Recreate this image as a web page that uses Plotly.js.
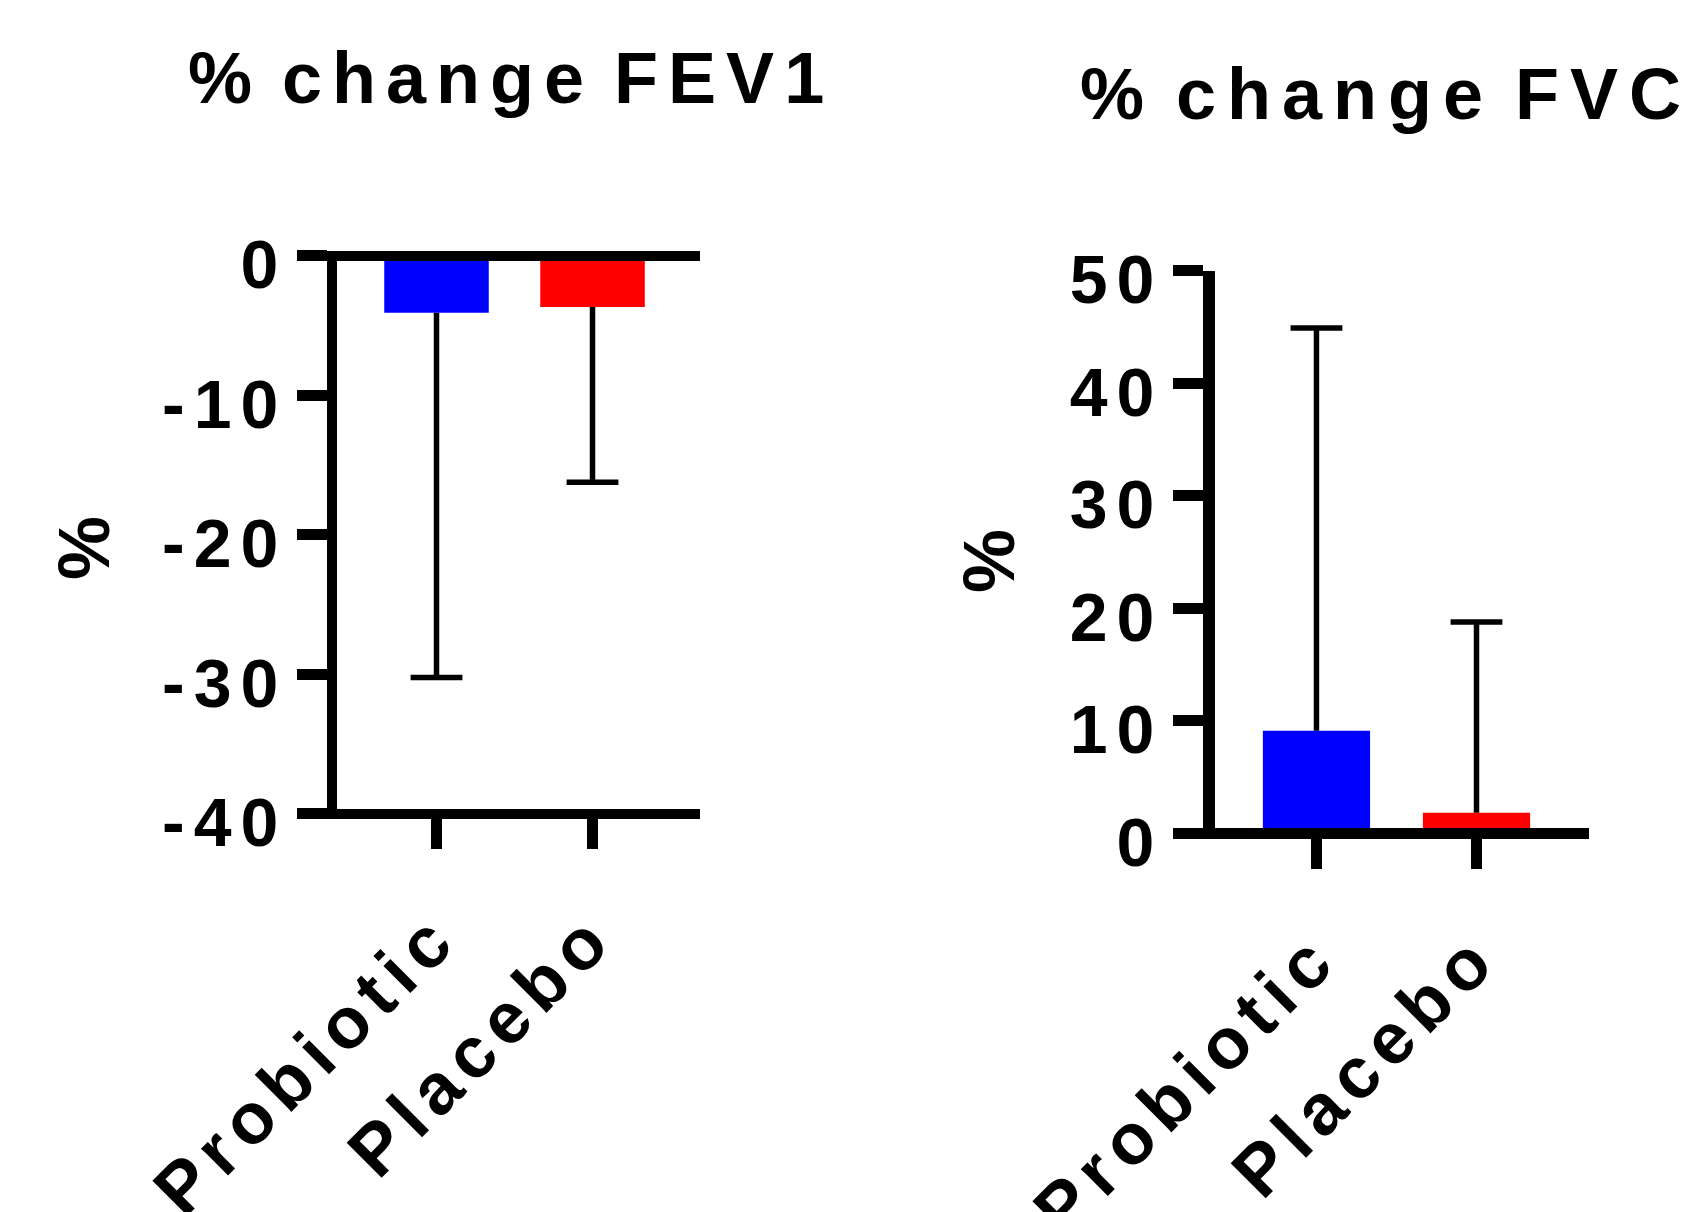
<!DOCTYPE html>
<html>
<head>
<meta charset="utf-8">
<script src="https://cdn.plot.ly/plotly-3.0.1.min.js"></script>
<style>
  html, body { margin: 0; padding: 0; background: #ffffff; }
  #chart { width: 1694px; height: 1212px; }
  #chart svg text.annotation-text { letter-spacing: 10px; word-spacing: -10px; }
  #chart svg g.annotation[data-index="1"] text.annotation-text { letter-spacing: 11px; }
  #chart svg g.ytick text, #chart svg g.y2tick text { letter-spacing: 9px; }
  #chart svg g.xtick text, #chart svg g.x2tick text { letter-spacing: 9px; }
</style>
</head>
<body>
<div id="chart"></div>
<script>
// ---- data ----
const categories = ['Probiotic', 'Placebo'];

const fev1Mean = [-4.1, -3.7];
const fev1SD = [26.15, 12.55];
const fev1TickVals = [0, -10, -20, -30, -40];
const fev1TickText = ['0', '-10', '-20', '-30', '-40'];

const fvcMean = [9.1, 1.8];
const fvcSD = [35.8, 16.95];
const fvcTickVals = [0, 10, 20, 30, 40, 50];
const fvcTickText = ['0', '10', '20', '30', '40', '50'];

const titleFEV1 = '% change FEV1';
const titleFVC = '% change FVC';
const yTitle = '%';

// ---- styles ----
const barColors = ['#0000ff', '#ff0000'];
const FONT = '"Liberation Sans", Arial, Helvetica, sans-serif';
const black = '#000000';

function barTrace(y, sd, dir, xa, ya) {
  return {
    type: 'bar', x: categories, y: y, xaxis: xa, yaxis: ya,
    width: 0.67,
    marker: { color: barColors, line: { width: 0 } },
    error_y: {
      type: 'data', symmetric: false,
      array: dir > 0 ? sd : sd.map(() => 0),
      arrayminus: dir > 0 ? sd.map(() => 0) : sd,
      width: 0, thickness: 5.5, color: black
    },
    hoverinfo: 'skip'
  };
}
function capTrace(y, sd, dir, xa, ya) {
  return {
    type: 'scatter', mode: 'markers', x: categories,
    y: y.map((m, i) => m + dir * sd[i]),
    xaxis: xa, yaxis: ya, cliponaxis: false,
    marker: { symbol: 'line-ew', size: 37, color: black, line: { width: 5.5, color: black } },
    hoverinfo: 'skip'
  };
}

const data = [
  barTrace(fev1Mean, fev1SD, -1, 'x', 'y'),
  capTrace(fev1Mean, fev1SD, -1, 'x', 'y'),
  barTrace(fvcMean, fvcSD, 1, 'x2', 'y2'),
  capTrace(fvcMean, fvcSD, 1, 'x2', 'y2')
];

const W = 1694, H = 1212;
const tickFont = { family: FONT, size: 68, color: black, weight: 'bold' };
const catFont = { family: FONT, size: 72, color: black, weight: 'bold' };

function xAxis(domain, range, pos, lw) {
  return {
    domain: domain, range: range, anchor: 'free', position: pos, type: 'category',
    showline: true, linewidth: lw, linecolor: black,
    ticks: 'outside', ticklen: 30, tickwidth: 11, tickcolor: black,
    tickangle: -45, tickfont: catFont, ticklabelstandoff: 17,
    showgrid: false, zeroline: false, fixedrange: true
  };
}
function yAxis(domain, range, pos, vals, text, lw, zl) {
  return {
    domain: domain, range: range, anchor: 'free', position: pos,
    tickmode: 'array', tickvals: vals, ticktext: text,
    showline: true, linewidth: lw, linecolor: black,
    ticks: 'outside', ticklen: 30, tickwidth: 11, tickcolor: black,
    tickfont: tickFont, ticklabelshift: 9, ticklabelstandoff: -4,
    showgrid: false, fixedrange: true,
    zeroline: zl, zerolinewidth: 10, zerolinecolor: black, zerolinelayer: 'above traces'
  };
}

const layout = {
  width: W, height: H,
  margin: { l: 0, r: 0, t: 0, b: 0, pad: 0 },
  paper_bgcolor: '#ffffff', plot_bgcolor: '#ffffff',
  showlegend: false, barmode: 'overlay',
  xaxis: xAxis([327 / W, 700 / W], [-0.702, 1.689], 1 - 813.5 / H, 10),
  yaxis: yAxis([1 - 813.5 / H, 1 - 255.5 / H], [-40, 0], 332 / W, fev1TickVals, fev1TickText, 10, true),
  xaxis2: xAxis([1203 / W, 1589 / W], [-0.709, 1.703], 1 - 833 / H, 11),
  yaxis2: yAxis([1 - 833 / H, 1 - 270.5 / H], [0, 50], 1209 / W, fvcTickVals, fvcTickText, 12, false),
  annotations: [
    { text: titleFEV1, xref: 'paper', yref: 'paper', x: 511 / W, y: 1 - 78 / H,
      xanchor: 'center', yanchor: 'middle', showarrow: false,
      font: { family: FONT, size: 72, color: black, weight: 'bold' } },
    { text: titleFVC, xref: 'paper', yref: 'paper', x: 1386 / W, y: 1 - 94 / H,
      xanchor: 'center', yanchor: 'middle', showarrow: false,
      font: { family: FONT, size: 72, color: black, weight: 'bold' } },
    { text: yTitle, xref: 'paper', yref: 'paper', x: 84 / W, y: 1 - 543 / H,
      xanchor: 'center', yanchor: 'middle', showarrow: false, textangle: -90,
      font: { family: FONT, size: 72, color: black, weight: 'bold' } },
    { text: yTitle, xref: 'paper', yref: 'paper', x: 989 / W, y: 1 - 556 / H,
      xanchor: 'center', yanchor: 'middle', showarrow: false, textangle: -90,
      font: { family: FONT, size: 72, color: black, weight: 'bold' } }
  ]
};

Plotly.newPlot('chart', data, layout, { staticPlot: true, displayModeBar: false });
</script>
</body>
</html>
